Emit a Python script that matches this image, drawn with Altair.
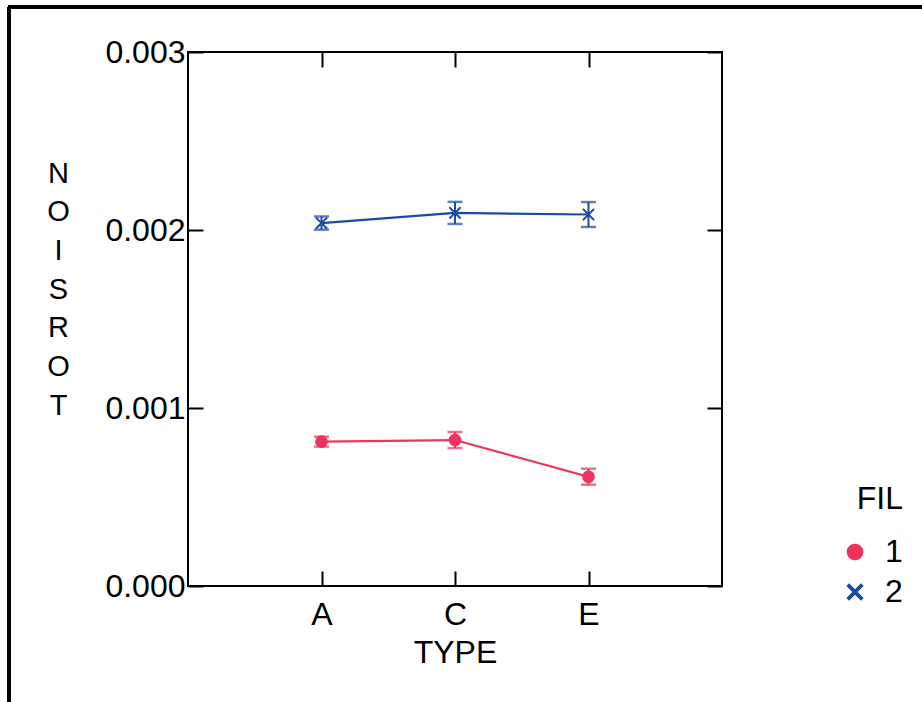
import altair as alt
import pandas as pd

# Mean torsion per type for each FIL group, with error half-widths
types = ["A", "C", "E"]
fil_1_mean = [0.000811, 0.000820, 0.000614]
fil_1_err = [0.000028, 0.000045, 0.000045]
fil_2_mean = [0.002039, 0.002096, 0.002087]
fil_2_err = [0.000037, 0.000062, 0.000070]

rows = []
for fil, means, errs in (("1", fil_1_mean, fil_1_err), ("2", fil_2_mean, fil_2_err)):
    for t, m, e in zip(types, means, errs):
        rows.append({"TYPE": t, "FIL": fil, "mean": m, "lo": m - e, "hi": m + e})
df = pd.DataFrame(rows)

RED = "#f0325e"
BLUE = "#1b4ba6"
FONT = "Liberation Sans"
# filled "x" glyph so it can take the fill colour like the circle
X_SHAPE = (
    "M-1,-0.78L-0.78,-1L0,-0.22L0.78,-1L1,-0.78L0.22,0L1,0.78L0.78,1"
    "L0,0.22L-0.78,1L-1,0.78L-0.22,0Z"
)

color_scale = alt.Scale(domain=["1", "2"], range=[RED, BLUE])
shape_scale = alt.Scale(domain=["1", "2"], range=["circle", X_SHAPE])
color_enc = alt.Color("FIL:N", scale=color_scale, title="FIL")

x_enc = alt.X(
    "TYPE:N",
    scale=alt.Scale(type="point", padding=1, domain=types),
    axis=alt.Axis(
        title="TYPE", labelAngle=0, ticks=False, domain=False,
        grid=True, gridColor="black", gridWidth=2, gridOpacity=1,
        gridDash=[15, 504, 15], labelPadding=13, titlePadding=7,
    ),
)
y_enc = alt.Y(
    "mean:Q",
    scale=alt.Scale(domain=[0, 0.003], nice=False, zero=False),
    axis=alt.Axis(
        values=[0, 0.001, 0.002, 0.003], format=".3f",
        ticks=False, domain=False, labelPadding=3,
        grid=True, gridColor="black", gridWidth=2, gridOpacity=1,
        gridDash=[15, 504, 15],
        title=["N", "O", "I", "S", "R", "O", "T"],
        titleAngle=0, titleAlign="center", titleBaseline="top",
        titleX=-130, titleY=107, titleLineHeight=38.7, titleFontSize=29,
    ),
)

base = alt.Chart(df)

lines = base.mark_line(strokeWidth=2.2).encode(
    x=x_enc, y=y_enc, color=color_enc, detail="FIL:N",
)

bars = base.mark_rule(strokeWidth=2).encode(
    x="TYPE:N", y="lo:Q", y2="hi:Q", color=color_enc,
)

caps_lo = base.mark_tick(thickness=2.5, size=15, orient="horizontal").encode(
    x="TYPE:N", y="lo:Q", color=color_enc,
)
caps_hi = base.mark_tick(thickness=2.5, size=15, orient="horizontal").encode(
    x="TYPE:N", y="hi:Q", color=color_enc,
)

points = base.mark_point(filled=True, size=160, opacity=1).encode(
    x="TYPE:N", y="mean:Q",
    color=color_enc,
    shape=alt.Shape("FIL:N", scale=shape_scale, title="FIL"),
)

# Outer figure frame (left and top edges)
frame_left = base.mark_rule(color="black", strokeWidth=3).encode(
    x=alt.value(-179), y=alt.value(-45), y2=alt.value(660)
)
frame_top = base.mark_rule(color="black", strokeWidth=3).encode(
    x=alt.value(-180), x2=alt.value(740), y=alt.value(-45)
)

chart = (
    alt.layer(frame_left, frame_top, lines, bars, caps_lo, caps_hi, points)
    .properties(
        width=534, height=534,
        autosize=alt.AutoSizeParams(type="none"),
        padding={"left": 188, "top": 52, "right": 200, "bottom": 116},
        background="white",
    )
    .configure_view(stroke="black", strokeWidth=2)
    .configure_axis(
        labelFont=FONT, titleFont=FONT, labelFontSize=32, titleFontSize=32,
        labelColor="black", titleColor="black", titleFontWeight="normal",
    )
    .configure_legend(
        orient="none", legendX=651, legendY=432, padding=0,
        titleFont=FONT, labelFont=FONT, titleFontSize=32, labelFontSize=32,
        titleFontWeight="normal", titleColor="black", labelColor="black",
        titleAnchor="end",
        symbolSize=230, rowPadding=8, titlePadding=20, labelOffset=14,
        symbolOpacity=1,
    )
)

chart.save("out.html", embed_options={"renderer": "svg", "actions": False})
